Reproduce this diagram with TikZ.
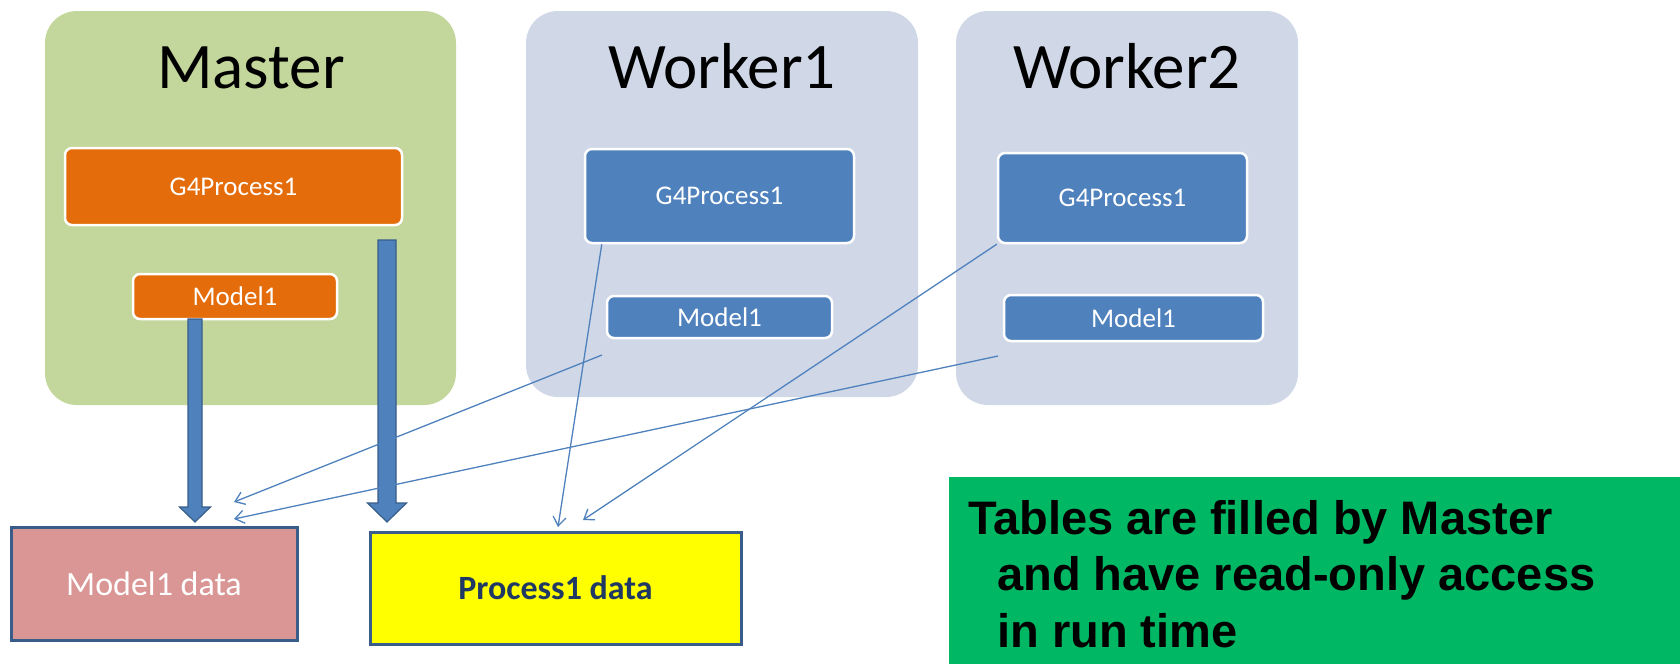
\documentclass[tikz,border=0pt]{standalone}
\usepackage{fontspec}
\setmainfont{Carlito}
\newfontfamily\arialfont{Liberation Sans}
\usetikzlibrary{arrows.meta,calc}
\definecolor{mgreen}{HTML}{C3D69B}
\definecolor{wblue}{HTML}{D0D8E8}
\definecolor{orng}{HTML}{E46C0A}
\definecolor{bblue}{HTML}{4F81BD}
\definecolor{dblue}{HTML}{385D8A}
\definecolor{pinkf}{HTML}{D99694}
\definecolor{tgreen}{HTML}{00B864}
\definecolor{navytxt}{HTML}{1F3864}
\definecolor{pureyellow}{HTML}{FFFF00}
\begin{document}
\begin{tikzpicture}[x=1pt,y=-1pt,
  panel/.style={fill=#1, rounded corners=32pt, inner sep=0pt},
  titletext/.style={anchor=base, inner sep=0pt, font=\fontsize{65}{78}\selectfont},
  procbox/.style={fill=#1, draw=white, line width=2.5pt, rounded corners=7pt, inner sep=0pt, text=white, font=\fontsize{27}{32}\selectfont},
  databox/.style={draw=dblue, line width=3pt, inner sep=0pt, font=\fontsize{34}{40}\selectfont},
  thinarrow/.style={draw=bblue, line width=1.3pt, -{Straight Barb[length=9pt,width=13pt]}},
  bigarrow/.style={fill=bblue, draw=dblue, line width=1.2pt, line join=miter},
  notetext/.style={anchor=base west, inner sep=0pt, font=\arialfont\bfseries\fontsize{47}{56}\selectfont}
]
\useasboundingbox (0,0) rectangle (1680,664);
% panels
\node[panel=mgreen, minimum width=411, minimum height=394] (master) at (250.5,208) {};
\node[panel=wblue, minimum width=392, minimum height=386] (worker1) at (722,204) {};
\node[panel=wblue, minimum width=342, minimum height=394] (worker2) at (1127,208) {};
% titles
\node[titletext] (mt) at (251,88) {Master};
\node[titletext] (w1t) at (722,88) {Worker1};
\node[titletext] (w2t) at (1127,88) {Worker2};
% inner boxes
\node[procbox=orng, minimum width=337, minimum height=77] (mp) at (233.5,186.5) {G4Process1};
\node[procbox=orng, minimum width=204, minimum height=45] (mm) at (235,296.5) {Model1};
\node[procbox=bblue, minimum width=269, minimum height=94] (w1p) at (719.5,196) {G4Process1};
\node[procbox=bblue, minimum width=225, minimum height=42] (w1m) at (719.5,317) {Model1};
\node[procbox=bblue, minimum width=249, minimum height=90] (w2p) at (1122.5,198) {G4Process1};
\node[procbox=bblue, minimum width=259, minimum height=46] (w2m) at (1133.5,318) {Model1};
% data boxes
\node[databox, fill=pinkf, text=white, minimum width=286, minimum height=113] (md) at (154,583.5) {Model1 data};
\node[databox, fill=pureyellow, text=navytxt, font=\bfseries\fontsize{34}{40}\selectfont, minimum width=371, minimum height=112] (pd) at (555.5,588) {Process1 data};
% big arrows
\draw[bigarrow] (188,319) -- (188,507) -- (179.5,507) -- (195,522) -- (210.5,507) -- (202,507) -- (202,319) -- cycle;
\draw[bigarrow] (378,240) -- (378,503) -- (367.5,503) -- (387,522) -- (406.5,503) -- (396,503) -- (396,240) -- cycle;
% thin arrows
\coordinate (w1free) at (602,355);
\coordinate (w2free) at (998,356);
\coordinate (mdin1) at (234,502);
\coordinate (mdin2) at (234,519);
\coordinate (pdin1) at (558,527);
\coordinate (pdin2) at (583,520);
\draw[thinarrow] (w1free) -- (mdin1);
\draw[thinarrow] (w2free) -- (mdin2);
\draw[thinarrow] ($(w1p.south west)+(18,0)$) -- (pdin1);
\draw[thinarrow] (w2p.south west) -- (pdin2);
% note
\node[fill=tgreen, inner sep=0pt, minimum width=731, minimum height=187] (note) at (1314.5,570.5) {};
\node[notetext] (n1) at (968,534) {Tables are filled by Master};
\node[notetext] (n2) at (997,590) {and have read-only access};
\node[notetext] (n3) at (997,647) {in run time};
\end{tikzpicture}
\end{document}
